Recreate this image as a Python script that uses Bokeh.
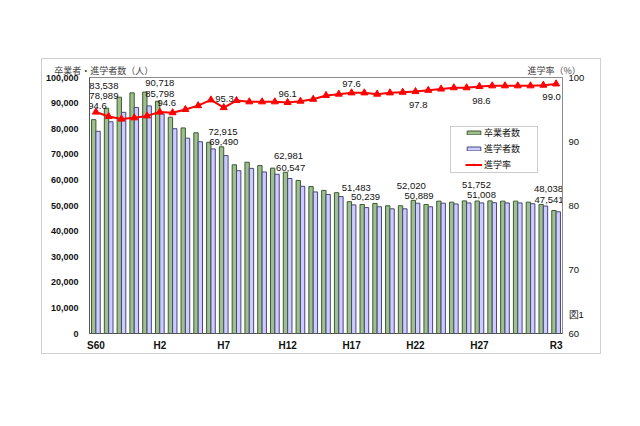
from bokeh.plotting import figure
from bokeh.models import (Range1d, LinearAxis, FixedTicker,
                          BoxAnnotation, Legend, LegendItem, NumeralTickFormatter,
                          ColumnDataSource)
from bokeh.transform import dodge
from bokeh.embed import file_html
from bokeh.resources import INLINE
from bokeh.core.properties import value

# ---------------- data ----------------
years = ["S60", "S61", "S62", "S63",
         "H1", "H2", "H3", "H4", "H5", "H6", "H7", "H8", "H9", "H10",
         "H11", "H12", "H13", "H14", "H15", "H16", "H17", "H18", "H19", "H20",
         "H21", "H22", "H23", "H24", "H25", "H26", "H27", "H28", "H29", "H30",
         "R1", "R2", "R3"]

graduates = [83538, 88000, 92300, 94000, 94300, 90718, 84500, 80300, 78400, 74700,
             72915, 65900, 66900, 65600, 64600, 62981, 59800, 57400, 55900, 55000,
             51483, 50400, 50800, 49900, 49900, 52020, 50400, 51700, 51300, 51800,
             51752, 51800, 51700, 51700, 51300, 50400, 48038]

enrolled = [78989, 82700, 86400, 88300, 88900, 85798, 80000, 76300, 74900, 72100,
            69490, 63600, 64500, 63100, 62200, 60547, 57500, 55300, 54300, 53500,
            50239, 49200, 49500, 48700, 48700, 50889, 49500, 50900, 50600, 51000,
            51008, 51100, 51000, 51000, 50700, 49800, 47541]

rate = [94.6, 93.9, 93.5, 93.7, 94.0, 94.6, 94.5, 95.0, 95.6, 96.5,
        95.3, 96.4, 96.2, 96.2, 96.2, 96.1, 96.3, 96.6, 97.2, 97.4,
        97.6, 97.6, 97.4, 97.6, 97.7, 97.8, 98.0, 98.2, 98.4, 98.4,
        98.6, 98.7, 98.7, 98.7, 98.7, 98.8, 99.0]

shown_ticks = ["S60", "H2", "H7", "H12", "H17", "H22", "H27", "R3"]
rate_ticks = [60, 70, 80, 90, 100]

series_names = ["卒業者数", "進学者数", "進学率"]
left_title = "卒業者・進学者数（人）"
right_title = "進学率（%）"
fig_label = "図1"

# labelled points
label_years = ["S60", "H2", "H7", "H12", "H17", "H22", "H27", "R3"]

# label offsets (px)
grad_dx = [8, 0, -0.8, 0.8, 4.8, -4.2, -3, -7.6]
grad_dy = [-34, -18.5, -15.3, -15.8, -13.9, -14.1, -16.2, -21.7]
enr_dx = [8, 0, 0, 3, 14, 3.6, 2, -7]
enr_dy = [-34.8, -20.1, -13.4, -10.7, -7.7, -7, -8.4, -11.3]
rate_dx = [1.6, 7, 0.7, 0, 0, 2.8, 2, -4.5]
rate_dy = [-5.9, -8.9, -8.1, -8.7, -8.4, 13.9, 14.7, 13.3]

# ---------------- layout (page px) ----------------
BOX_L, BOX_T = 41, 58           # outer light-grey chart box
CW, CH = 560, 296               # canvas size inside the box border
OX, OY = BOX_L + 1, BOX_T + 1   # canvas origin on page
FRAME_L, FRAME_R, FRAME_T, FRAME_B = 87, 562, 77, 333   # plot frame on page

pos = list(range(len(years)))

p = figure(x_range=Range1d(-0.5, len(years) - 0.5),
           y_range=Range1d(0, 100000),
           width=CW, height=CH, output_backend="svg", toolbar_location=None,
           min_border_left=FRAME_L - OX, min_border_right=(OX + CW) - FRAME_R,
           min_border_top=FRAME_T - OY, min_border_bottom=(OY + CH) - FRAME_B,
           margin=(BOX_T, 0, 0, BOX_L),
           styles={"border": "1px solid #cfcfcf"})
p.extra_y_ranges = {"rate": Range1d(60, 100)}
p.extra_x_ranges = {"page": Range1d(FRAME_L, FRAME_R)}
p.xgrid.visible = False
p.ygrid.visible = False
p.outline_line_color = "#8c8c8c"
p.background_fill_color = "white"
p.border_fill_color = "white"

src = ColumnDataSource(dict(x=pos, year=years, grad=graduates, enr=enrolled, rate=rate))

g_bar = p.vbar(x=dodge("x", -0.17), top="grad", width=0.34,
               source=src, fill_color="#9fc08c", line_color="#3b5a34", line_width=1)
b_bar = p.vbar(x=dodge("x", 0.17), top="enr", width=0.34,
               source=src, fill_color="#ccccff", line_color="#47477a", line_width=1)
r_line = p.line(x="x", y="rate", source=src, y_range_name="rate",
                line_color="#ff0000", line_width=2)
r_pts = p.scatter(x="x", y="rate", source=src, y_range_name="rate",
                  marker="triangle", size=7, fill_color="#ff0000", line_color="#ff0000")


def plain_axis(ax):
    ax.major_tick_in = 0
    ax.major_tick_out = 0
    ax.minor_tick_in = 0
    ax.minor_tick_out = 0
    ax.major_tick_line_color = None
    ax.minor_tick_line_color = None
    ax.axis_label_standoff = 0


# ---- axes ----
yax = p.yaxis[0]
plain_axis(yax)
yax.ticker = FixedTicker(ticks=list(range(0, 100001, 10000)))
yax.formatter = NumeralTickFormatter(format="0,0")
yax.major_label_text_font = "Liberation Sans"
yax.major_label_text_font_style = "bold"
yax.major_label_text_font_size = "9px"
yax.major_label_text_color = "#111111"
yax.major_label_standoff = 11
yax.axis_line_color = "#555555"

# right axis: rate ticks, plus the figure number placed in the same column
FIG_LABEL_Y = 60 + (FRAME_B - 314) / 6.4
rax = LinearAxis(y_range_name="rate", ticker=FixedTicker(ticks=rate_ticks + [FIG_LABEL_Y]))
plain_axis(rax)
rax.major_label_overrides = {FIG_LABEL_Y: fig_label}
rax.major_label_text_font = "Liberation Sans"
rax.major_label_text_font_size = "9.5px"
rax.major_label_text_color = "#111111"
rax.major_label_standoff = 6
rax.axis_line_color = "#8c8c8c"
p.add_layout(rax, "right")

tick_pos = [years.index(t) for t in shown_ticks]
xax = p.xaxis[0]
plain_axis(xax)
xax.ticker = FixedTicker(ticks=tick_pos)
xax.major_label_overrides = {i: t for i, t in zip(tick_pos, shown_ticks)}
xax.major_label_text_font = "Liberation Sans"
xax.major_label_text_font_style = "bold"
xax.major_label_text_font_size = "10px"
xax.major_label_text_color = "#111111"
xax.major_label_standoff = 6
xax.axis_line_color = "#555555"

# top axis carrying the two axis titles (positions in page px)
LT_X, RT_X = 101.2, 553.5
tax = LinearAxis(x_range_name="page", ticker=FixedTicker(ticks=[LT_X, RT_X]))
plain_axis(tax)
tax.major_label_overrides = {LT_X: left_title, RT_X: right_title}
tax.major_label_text_font = "Noto Sans CJK JP"
tax.major_label_text_font_size = "9px"
tax.major_label_text_color = "#444444"
tax.axis_line_color = None
tax.major_label_standoff = 1
p.add_layout(tax, "above")

# ---- data labels ----
idx = [years.index(y) for y in label_years]
bar_src = ColumnDataSource(dict(
    x=idx + idx,
    val=[graduates[i] for i in idx] + [enrolled[i] for i in idx],
    txt=[f"{graduates[i]:,}" for i in idx] + [f"{enrolled[i]:,}" for i in idx],
    dx=grad_dx + enr_dx,
    dy=grad_dy + enr_dy))
p.text(x="x", y="val", text="txt", x_offset="dx", y_offset="dy", source=bar_src,
       text_align="center", text_baseline="middle",
       text_font=value("Liberation Sans"), text_font_size="9.5px", text_color="#111111")

rate_src = ColumnDataSource(dict(
    x=idx,
    val=[rate[i] for i in idx],
    txt=[f"{rate[i]:.1f}" for i in idx],
    dx=rate_dx, dy=rate_dy))
p.text(x="x", y="val", text="txt", x_offset="dx", y_offset="dy", source=rate_src,
       y_range_name="rate", text_align="center", text_baseline="middle",
       text_font=value("Liberation Sans"), text_font_size="9.5px", text_color="#111111")

# ---- legend ----
p.add_layout(BoxAnnotation(left=448 - FRAME_L, right=535 - FRAME_L,
                           top=FRAME_B - 126, bottom=FRAME_B - 172,
                           left_units="screen", right_units="screen",
                           top_units="screen", bottom_units="screen",
                           fill_color="white", fill_alpha=1,
                           line_color="#555555", line_width=1))
legend = Legend(items=[LegendItem(label=series_names[0], renderers=[g_bar]),
                       LegendItem(label=series_names[1], renderers=[b_bar]),
                       LegendItem(label=series_names[2], renderers=[r_line, r_pts])],
                location=(461 - FRAME_L, FRAME_B - 173),
                label_text_font="Noto Sans CJK JP", label_text_font_size="9px",
                label_text_color="#111111",
                glyph_width=17, glyph_height=5, label_height=12, label_standoff=2,
                spacing=3, padding=2, border_line_alpha=0, background_fill_alpha=0)
p.add_layout(legend, "center")

open("out.html", "w").write(file_html(p, INLINE))
